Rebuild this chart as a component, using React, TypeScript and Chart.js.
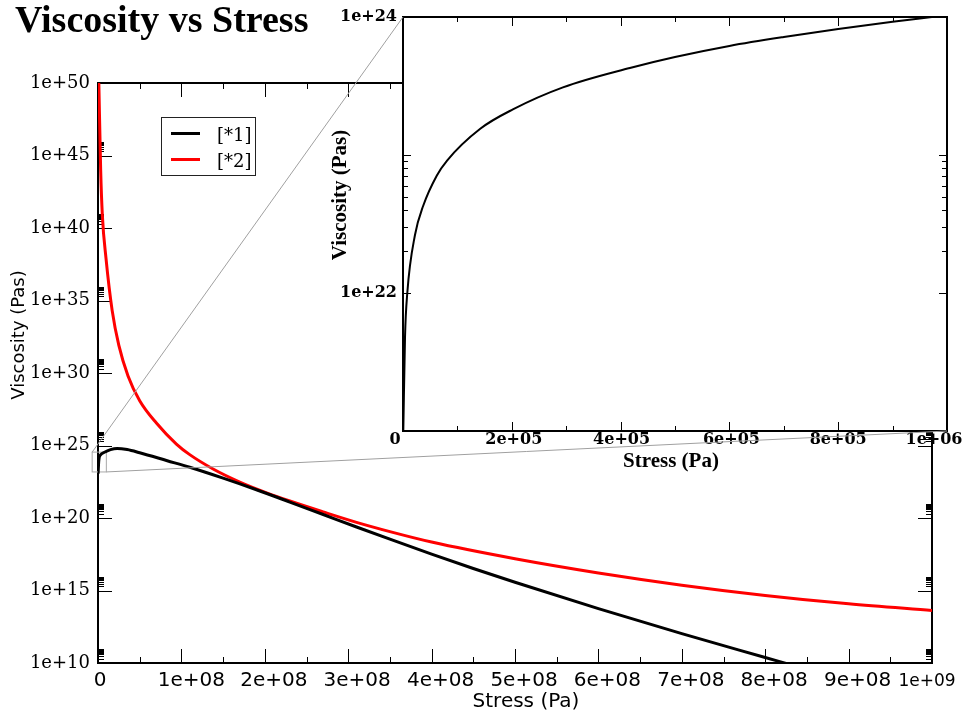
import React, { useEffect, useRef } from 'react';
import { Chart, registerables } from 'chart.js';

Chart.register(...registerables);

// ---------------- text ----------------
const TITLE = 'Viscosity vs Stress';
const MAIN_X_TITLE = 'Stress (Pa)';
const MAIN_Y_TITLE = 'Viscosity (Pas)';
const INSET_X_TITLE = 'Stress (Pa)';
const INSET_Y_TITLE = 'Viscosity (Pas)';
const SERIES_NAMES = ['[*1]', '[*2]'];

// ---------------- data (main view) ----------------
// Series [*1] (black): stress (Pa) -> viscosity (Pas)
const S1_STRESS = [1e5, 1e6, 3e6, 8.4e6, 1.5e7, 2.3e7, 3.5e7, 5e7, 8.3e7, 1.1e8, 1.5e8, 1.9e8, 2.3e8, 2.7e8, 3.1e8, 3.5e8, 4e8, 4.5e8, 5e8, 6e8, 7e8, 8e8, 8.25e8];
const S1_VISC = [1.12e23, 1e24, 2.24e24, 3.55e24, 5.25e24, 6.31e24, 5.25e24, 3.16e24, 8.91e23, 3.16e23, 5.62e22, 8.91e21, 1.26e21, 1.74e20, 2.4e19, 3.47e18, 3.24e17, 3.31e16, 3.72e15, 5.62e13, 1.07e12, 2.4e10, 9.3e9];

// Series [*2] (red)
const S2_STRESS = [1e6, 3.2e6, 5.2e6, 9.6e6, 1.7e7, 2.5e7, 3.6e7, 5e7, 7e7, 9.4e7, 1.1e8, 1.38e8, 1.7e8, 2.03e8, 2.3e8, 2.7e8, 3.1e8, 3.5e8, 4e8, 5e8, 6e8, 7e8, 8e8, 9e8, 1e9];
const S2_VISC = [1e50, 1e44, 7.94e40, 7.94e37, 2.0e34, 7.94e31, 6.31e29, 1.23e28, 3.55e26, 1.26e25, 2.34e24, 2.4e23, 3.02e22, 5.25e21, 1.48e21, 2.63e20, 5.01e19, 1.15e19, 2.19e18, 1.55e17, 1.62e16, 2.34e15, 4.57e14, 1.2e14, 4.17e13];

// ---------------- data (inset view, series [*1]) ----------------
const INSET_STRESS = [550, 3700, 7900, 22000, 37000, 62000, 81000, 142000, 202000, 294000, 417000, 500000, 600000, 700000, 800000, 900000, 950000, 1000000];
const INSET_VISC = [1e21, 4.79e21, 1e22, 2.63e22, 4.27e22, 7.08e22, 9.12e22, 1.55e23, 2.14e23, 3.09e23, 4.27e23, 5.13e23, 6.17e23, 7.16e23, 8.17e23, 9.23e23, 9.77e23, 1.03e24];

// ---------------- axes / ticks ----------------
const MAIN_X_MIN = 0;
const MAIN_X_MAX = 1e9;
const MAIN_Y_MIN = 1e10;
const MAIN_Y_MAX = 1e50;
const MAIN_X_TICKS = [0, 1e8, 2e8, 3e8, 4e8, 5e8, 6e8, 7e8, 8e8, 9e8, 1e9];
const MAIN_X_LABELS = ['0', '1e+08', '2e+08', '3e+08', '4e+08', '5e+08', '6e+08', '7e+08', '8e+08', '9e+08', '1e+09'];
const MAIN_X_MINOR = [5e7, 1.5e8, 2.5e8, 3.5e8, 4.5e8, 5.5e8, 6.5e8, 7.5e8, 8.5e8, 9.5e8];
const MAIN_Y_TICKS = [1e10, 1e15, 1e20, 1e25, 1e30, 1e35, 1e40, 1e45, 1e50];
const MAIN_Y_LABELS = ['1e+10', '1e+15', '1e+20', '1e+25', '1e+30', '1e+35', '1e+40', '1e+45', '1e+50'];
const MINOR_MULTIPLIERS = [2, 3, 4, 5, 6, 7, 8, 9];
const MAIN_Y_MINOR = MAIN_Y_TICKS.slice(0, -1).flatMap((t) => MINOR_MULTIPLIERS.map((m) => m * t));

const INSET_X_MIN = 0;
const INSET_X_MAX = 1e6;
const INSET_Y_MIN = 1e21;
const INSET_Y_MAX = 1e24;
const INSET_X_TICKS = [0, 2e5, 4e5, 6e5, 8e5, 1e6];
const INSET_X_LABELS = ['0', '2e+05', '4e+05', '6e+05', '8e+05', '1e+06'];
const INSET_X_MINOR = [1e5, 3e5, 5e5, 7e5, 9e5];
const INSET_Y_TICKS = [1e22, 1e24];
const INSET_Y_LABELS = ['1e+22', '1e+24'];
const INSET_Y_MAJOR_MARKS = [1e22, 1e23];
const INSET_Y_MINOR = MINOR_MULTIPLIERS.map((m) => m * 1e22);

// zoomed region marked on the main plot (data coords)
const ZOOM_BOX_X = [-7e6, 1e7];
const ZOOM_BOX_Y = [1.5e23, 3.5e24];

// ---------------- style ----------------
const W = 964;
const H = 715;
const MAIN_X_LABEL_NUDGE = [2, 10, 9, 9, 9, 9, 9, 9, 9, 9, -5];
const INSET_X_LABEL_NUDGE = [-8, 2, 1, 2, 0, -13];

function drawFrame(chart: any, xMajor: number[], xMinor: number[], yMajor: number[], yMinor: number[], lens: number[]) {
  const { ctx, chartArea: a } = chart;
  const xs = chart.scales.x;
  const ys = chart.scales.y;
  ctx.save();
  ctx.strokeStyle = '#000';
  ctx.lineWidth = 1;
  ctx.beginPath();
  const xt = (vals: number[], len: number) =>
    vals.forEach((v) => {
      const p = Math.round(xs.getPixelForValue(v)) + 0.5;
      ctx.moveTo(p, a.bottom);
      ctx.lineTo(p, a.bottom - len);
      ctx.moveTo(p, a.top);
      ctx.lineTo(p, a.top + len);
    });
  const yt = (vals: number[], len: number) =>
    vals.forEach((v) => {
      const p = Math.round(ys.getPixelForValue(v)) + 0.5;
      ctx.moveTo(a.left, p);
      ctx.lineTo(a.left + len, p);
      ctx.moveTo(a.right, p);
      ctx.lineTo(a.right - len, p);
    });
  xt(xMajor, lens[0]);
  xt(xMinor, lens[1]);
  yt(yMajor, lens[2]);
  yt(yMinor, lens[3]);
  ctx.stroke();
  ctx.lineWidth = 2;
  ctx.strokeRect(a.left, a.top, a.right - a.left, a.bottom - a.top);
  ctx.restore();
}

function fixedAxisFns(size: number, horizontal: boolean) {
  return (s: any) => {
    if (horizontal) {
      s.height = size;
      s.paddingLeft = 0;
      s.paddingRight = 0;
    } else {
      s.width = size;
      s.paddingTop = 0;
      s.paddingBottom = 0;
    }
  };
}

export default function App() {
  const mainRef = useRef<HTMLCanvasElement>(null);
  const insetRef = useRef<HTMLCanvasElement>(null);

  useEffect(() => {
    if (!mainRef.current || !insetRef.current) return;

    const mainDecor = {
      id: 'mainDecor',
      beforeDatasetsDraw(chart: any) {
        drawFrame(chart, MAIN_X_TICKS, MAIN_X_MINOR, MAIN_Y_TICKS, MAIN_Y_MINOR, [14, 6, 14, 6]);
        const { ctx } = chart;
        const xs = chart.scales.x;
        const ys = chart.scales.y;
        const x1 = xs.getPixelForValue(ZOOM_BOX_X[0]);
        const x2 = xs.getPixelForValue(ZOOM_BOX_X[1]);
        const y1 = ys.getPixelForValue(ZOOM_BOX_Y[1]);
        const y2 = ys.getPixelForValue(ZOOM_BOX_Y[0]);
        ctx.save();
        ctx.strokeStyle = '#a8a8a8';
        ctx.lineWidth = 1;
        ctx.strokeRect(x1, y1, x2 - x1, y2 - y1);
        ctx.restore();
      },
      afterDraw(chart: any) {
        const { ctx } = chart;
        const xs = chart.scales.x;
        ctx.save();
        ctx.fillStyle = '#000';
        // title
        ctx.font = 'bold 38px "Liberation Serif"';
        ctx.textAlign = 'left';
        ctx.textBaseline = 'alphabetic';
        ctx.fillText(TITLE, 15, 32);
        // x tick labels
        ctx.textAlign = 'center';
        MAIN_X_TICKS.forEach((v, i) => {
          const last = i === MAIN_X_TICKS.length - 1;
          ctx.font = (last ? 17 : 20) + 'px "DejaVu Sans"';
          ctx.fillText(MAIN_X_LABELS[i], xs.getPixelForValue(v) + MAIN_X_LABEL_NUDGE[i], 686);
        });
        // axis titles
        ctx.font = '20px "DejaVu Sans"';
        ctx.fillText(MAIN_X_TITLE, 526, 707);
        ctx.save();
        ctx.translate(19, 335);
        ctx.rotate(-Math.PI / 2);
        ctx.font = '18px "DejaVu Sans"';
        ctx.textBaseline = 'middle';
        ctx.fillText(MAIN_Y_TITLE, 0, 0);
        ctx.restore();
        // legend
        ctx.strokeStyle = '#222';
        ctx.lineWidth = 1;
        ctx.strokeRect(161.5, 117.5, 94, 58);
        const colors = ['#000000', '#ff0000'];
        SERIES_NAMES.forEach((name, i) => {
          const y = 133.5 + i * 26;
          ctx.strokeStyle = colors[i];
          ctx.lineWidth = 3;
          ctx.beginPath();
          ctx.moveTo(171, y);
          ctx.lineTo(200, y);
          ctx.stroke();
          ctx.font = '18px "DejaVu Serif"';
          ctx.textAlign = 'left';
          ctx.textBaseline = 'alphabetic';
          ctx.fillStyle = '#000';
          ctx.fillText(name, 217, 141 + i * 26);
        });
        ctx.restore();
      },
    };

    const main = new Chart(mainRef.current, {
      type: 'line',
      data: {
        datasets: [
          {
            label: SERIES_NAMES[0],
            data: S1_STRESS.map((x, i) => ({ x, y: S1_VISC[i] })),
            borderColor: '#000000',
            borderWidth: 3,
            pointRadius: 0,
            fill: false,
            cubicInterpolationMode: 'monotone',
          },
          {
            label: SERIES_NAMES[1],
            data: S2_STRESS.map((x, i) => ({ x, y: S2_VISC[i] })),
            borderColor: '#ff0000',
            borderWidth: 3,
            pointRadius: 0,
            fill: false,
            cubicInterpolationMode: 'monotone',
          },
        ],
      },
      options: {
        responsive: false,
        animation: false,
        devicePixelRatio: 1,
        events: [],
        layout: { padding: { left: 0, top: 83, right: 32, bottom: 0 } },
        plugins: { legend: { display: false }, tooltip: { enabled: false }, title: { display: false } },
        scales: {
          x: {
            type: 'linear',
            min: MAIN_X_MIN,
            max: MAIN_X_MAX,
            grid: { display: false, drawTicks: false },
            border: { display: false },
            ticks: { display: false },
            afterFit: fixedAxisFns(52, true),
          },
          y: {
            type: 'logarithmic',
            min: MAIN_Y_MIN,
            max: MAIN_Y_MAX,
            grid: { display: false, drawTicks: false },
            border: { display: false },
            ticks: {
              autoSkip: false,
              padding: 8,
              color: '#000',
              font: { family: '"DejaVu Serif"', size: 18 },
              callback: (value: any) => {
                const i = MAIN_Y_TICKS.indexOf(Number(value));
                return i >= 0 ? MAIN_Y_LABELS[i] : '';
              },
            },
            afterBuildTicks: (s: any) => {
              s.ticks = MAIN_Y_TICKS.map((v) => ({ value: v }));
            },
            afterFit: fixedAxisFns(98, false),
          },
        },
      },
      plugins: [mainDecor],
    } as any);

    const insetDecor = {
      id: 'insetDecor',
      beforeDatasetsDraw(chart: any) {
        const { ctx, chartArea: a } = chart;
        ctx.save();
        ctx.fillStyle = '#ffffff';
        ctx.fillRect(a.left, a.top, a.right - a.left, a.bottom - a.top);
        ctx.restore();
        drawFrame(chart, INSET_X_TICKS, INSET_X_MINOR, INSET_Y_MAJOR_MARKS, INSET_Y_MINOR, [9, 5, 8, 5]);
      },
      afterDraw(chart: any) {
        const { ctx, chartArea: a } = chart;
        const xs = chart.scales.x;
        ctx.save();
        ctx.fillStyle = '#000';
        ctx.font = 'bold 16px "DejaVu Serif"';
        ctx.textAlign = 'center';
        ctx.textBaseline = 'alphabetic';
        INSET_X_TICKS.forEach((v, i) => {
          ctx.fillText(INSET_X_LABELS[i], xs.getPixelForValue(v) + INSET_X_LABEL_NUDGE[i], 444);
        });
        ctx.font = 'bold 21px "Liberation Serif"';
        ctx.fillText(INSET_X_TITLE, 671, 467);
        ctx.save();
        ctx.translate(341, 195);
        ctx.rotate(-Math.PI / 2);
        ctx.textBaseline = 'middle';
        ctx.fillText(INSET_Y_TITLE, 0, 0);
        ctx.restore();
        // connector lines from the zoom box on the main plot
        const mx = main.scales.x;
        const my = main.scales.y;
        const x1 = mx.getPixelForValue(ZOOM_BOX_X[0]);
        const x2 = mx.getPixelForValue(ZOOM_BOX_X[1]);
        const y1 = my.getPixelForValue(ZOOM_BOX_Y[1]);
        const y2 = my.getPixelForValue(ZOOM_BOX_Y[0]);
        ctx.strokeStyle = '#a0a0a0';
        ctx.lineWidth = 1;
        ctx.beginPath();
        ctx.moveTo(x1, y1);
        ctx.lineTo(a.left, a.top);
        ctx.moveTo(x2, y2);
        ctx.lineTo(a.right, a.bottom);
        ctx.stroke();
        ctx.restore();
      },
    };

    const inset = new Chart(insetRef.current, {
      type: 'line',
      data: {
        datasets: [
          {
            label: SERIES_NAMES[0],
            data: INSET_STRESS.map((x, i) => ({ x, y: INSET_VISC[i] })),
            borderColor: '#000000',
            borderWidth: 2,
            pointRadius: 0,
            fill: false,
            cubicInterpolationMode: 'monotone',
          },
        ],
      },
      options: {
        responsive: false,
        animation: false,
        devicePixelRatio: 1,
        events: [],
        layout: { padding: { left: 0, top: 17, right: 17, bottom: 284 } },
        plugins: { legend: { display: false }, tooltip: { enabled: false }, title: { display: false } },
        scales: {
          x: {
            type: 'linear',
            min: INSET_X_MIN,
            max: INSET_X_MAX,
            grid: { display: false, drawTicks: false },
            border: { display: false },
            ticks: { display: false },
            afterFit: fixedAxisFns(0, true),
          },
          y: {
            type: 'logarithmic',
            min: INSET_Y_MIN,
            max: INSET_Y_MAX,
            grid: { display: false, drawTicks: false },
            border: { display: false },
            ticks: {
              autoSkip: false,
              padding: 6,
              color: '#000',
              font: { family: '"DejaVu Serif"', size: 16, weight: 'bold' },
              callback: (value: any) => {
                const i = INSET_Y_TICKS.indexOf(Number(value));
                return i >= 0 ? INSET_Y_LABELS[i] : '';
              },
            },
            afterBuildTicks: (s: any) => {
              s.ticks = INSET_Y_TICKS.map((v) => ({ value: v }));
            },
            afterFit: fixedAxisFns(403, false),
          },
        },
      },
      plugins: [insetDecor],
    } as any);

    return () => {
      inset.destroy();
      main.destroy();
    };
  }, []);

  const canvasStyle: React.CSSProperties = { position: 'absolute', left: 0, top: 0, width: W, height: H };
  return (
    <div style={{ position: 'fixed', left: 0, top: 0, width: W, height: H, background: '#ffffff', overflow: 'hidden' }}>
      <canvas ref={mainRef} width={W} height={H} style={canvasStyle} />
      <canvas ref={insetRef} width={W} height={H} style={canvasStyle} />
    </div>
  );
}
